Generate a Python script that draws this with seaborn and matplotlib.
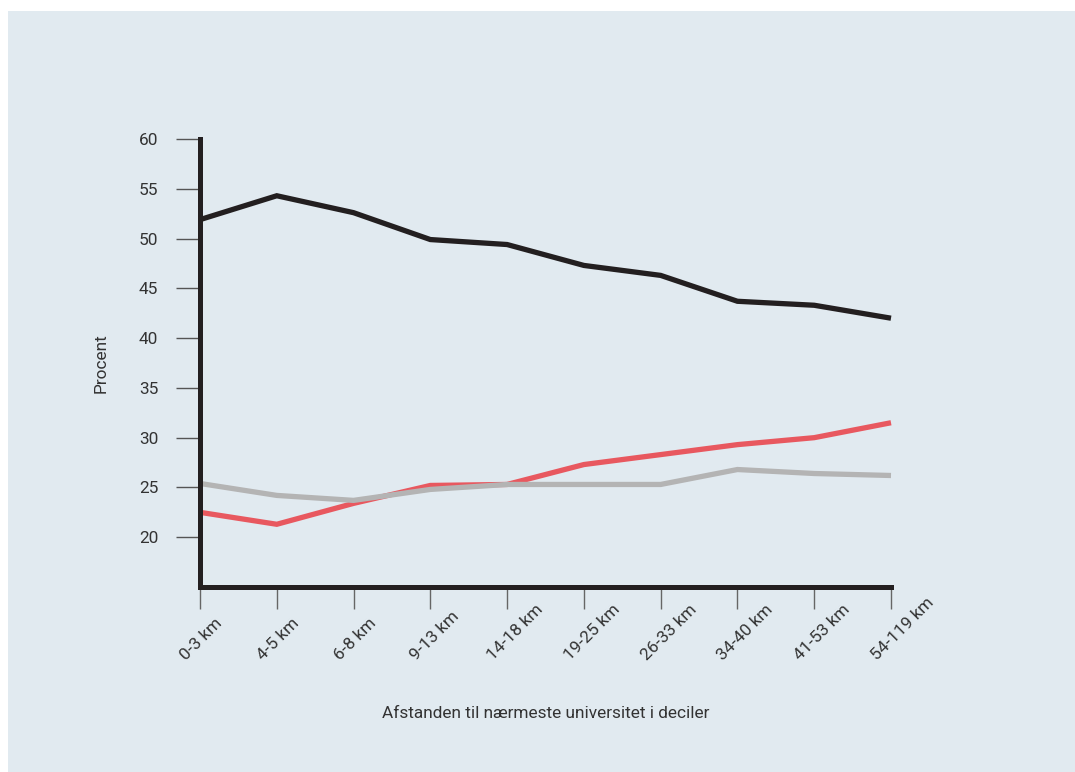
import matplotlib
matplotlib.use("Agg")
import matplotlib.pyplot as plt
import matplotlib.transforms as mtransforms
import seaborn as sns
import pandas as pd
import numpy as np
from matplotlib.patches import Rectangle

# ---- data ----
categories = ["0-3 km", "4-5 km", "6-8 km", "9-13 km", "14-18 km",
              "19-25 km", "26-33 km", "34-40 km", "41-53 km", "54-119 km"]
serie_sort = [51.9, 54.3, 52.6, 49.9, 49.4, 47.3, 46.3, 43.7, 43.3, 42.0]
serie_roed = [22.5, 21.3, 23.4, 25.2, 25.3, 27.3, 28.3, 29.3, 30.0, 31.5]
serie_graa = [25.4, 24.2, 23.7, 24.8, 25.3, 25.3, 25.3, 26.8, 26.4, 26.2]
y_ticks = [20, 25, 30, 35, 40, 45, 50, 55, 60]

series_names = ["roed", "graa", "sort"]
series_values = {"roed": serie_roed, "graa": serie_graa, "sort": serie_sort}
palette = {"roed": "#e8585f", "graa": "#b4b4b4", "sort": "#231f20"}

rows = []
for name in series_names:
    for i, v in enumerate(series_values[name]):
        rows.append({"pos": i, "value": v, "serie": name})
df = pd.DataFrame(rows)

# ---- style ----
sns.set_style("white")
plt.rcParams["font.family"] = ["Roboto", "DejaVu Sans"]

bg = "#e1eaf0"
fs = 12.4
fig = plt.figure(figsize=(10.75, 7.72), dpi=100, facecolor="white")
fig.patches.append(Rectangle((8 / 1075, 0), 1 - 8 / 1075, 1 - 11 / 772,
                             transform=fig.transFigure, facecolor=bg,
                             edgecolor="none", zorder=-10))

ax = fig.add_axes([200 / 1075, 1 - 587 / 772, (891 - 200) / 1075, (587 - 139) / 772])
ax.set_facecolor("none")
ax.set_zorder(5)

sns.lineplot(data=df, x="pos", y="value", hue="serie", hue_order=series_names,
             palette=palette, linewidth=3.8, ax=ax, legend=False,
             solid_capstyle="butt", solid_joinstyle="miter", clip_on=False)

ax.set_xlim(0, len(categories) - 1)
ax.set_ylim(15, 60)
ax.set_yticks(y_ticks)
ax.set_yticklabels([str(t) for t in y_ticks])
ax.set_xticks(range(len(categories)))
ax.set_xticklabels(categories, rotation=45, ha="left", va="baseline",
                   rotation_mode="anchor")

for side in ["top", "right"]:
    ax.spines[side].set_visible(False)
for side in ["left", "bottom"]:
    ax.spines[side].set_linewidth(3.6)
    ax.spines[side].set_color("#231f20")
    ax.spines[side].set_capstyle("projecting")

ax.tick_params(axis="y", direction="out", length=17, width=1.0, color="#555555",
               pad=13, labelsize=fs, labelcolor="#333333", left=True)
ax.tick_params(axis="x", direction="out", length=16, width=1.0, color="#666666",
               pad=0, labelsize=fs, labelcolor="#333333", bottom=True)

offset = mtransforms.ScaledTranslation(-0.14, -0.52, fig.dpi_scale_trans)
for lab in ax.get_xticklabels():
    lab.set_transform(lab.get_transform() + offset)

ax.set_xlabel("Afstanden til nærmeste universitet i deciler", fontsize=fs,
              color="#333333")
ax.xaxis.set_label_coords(0.5, -0.265)
ax.set_ylabel("Procent", fontsize=fs, color="#333333", labelpad=22)
ax.grid(False)

fig.savefig("out.png", dpi=100, facecolor=fig.get_facecolor())
